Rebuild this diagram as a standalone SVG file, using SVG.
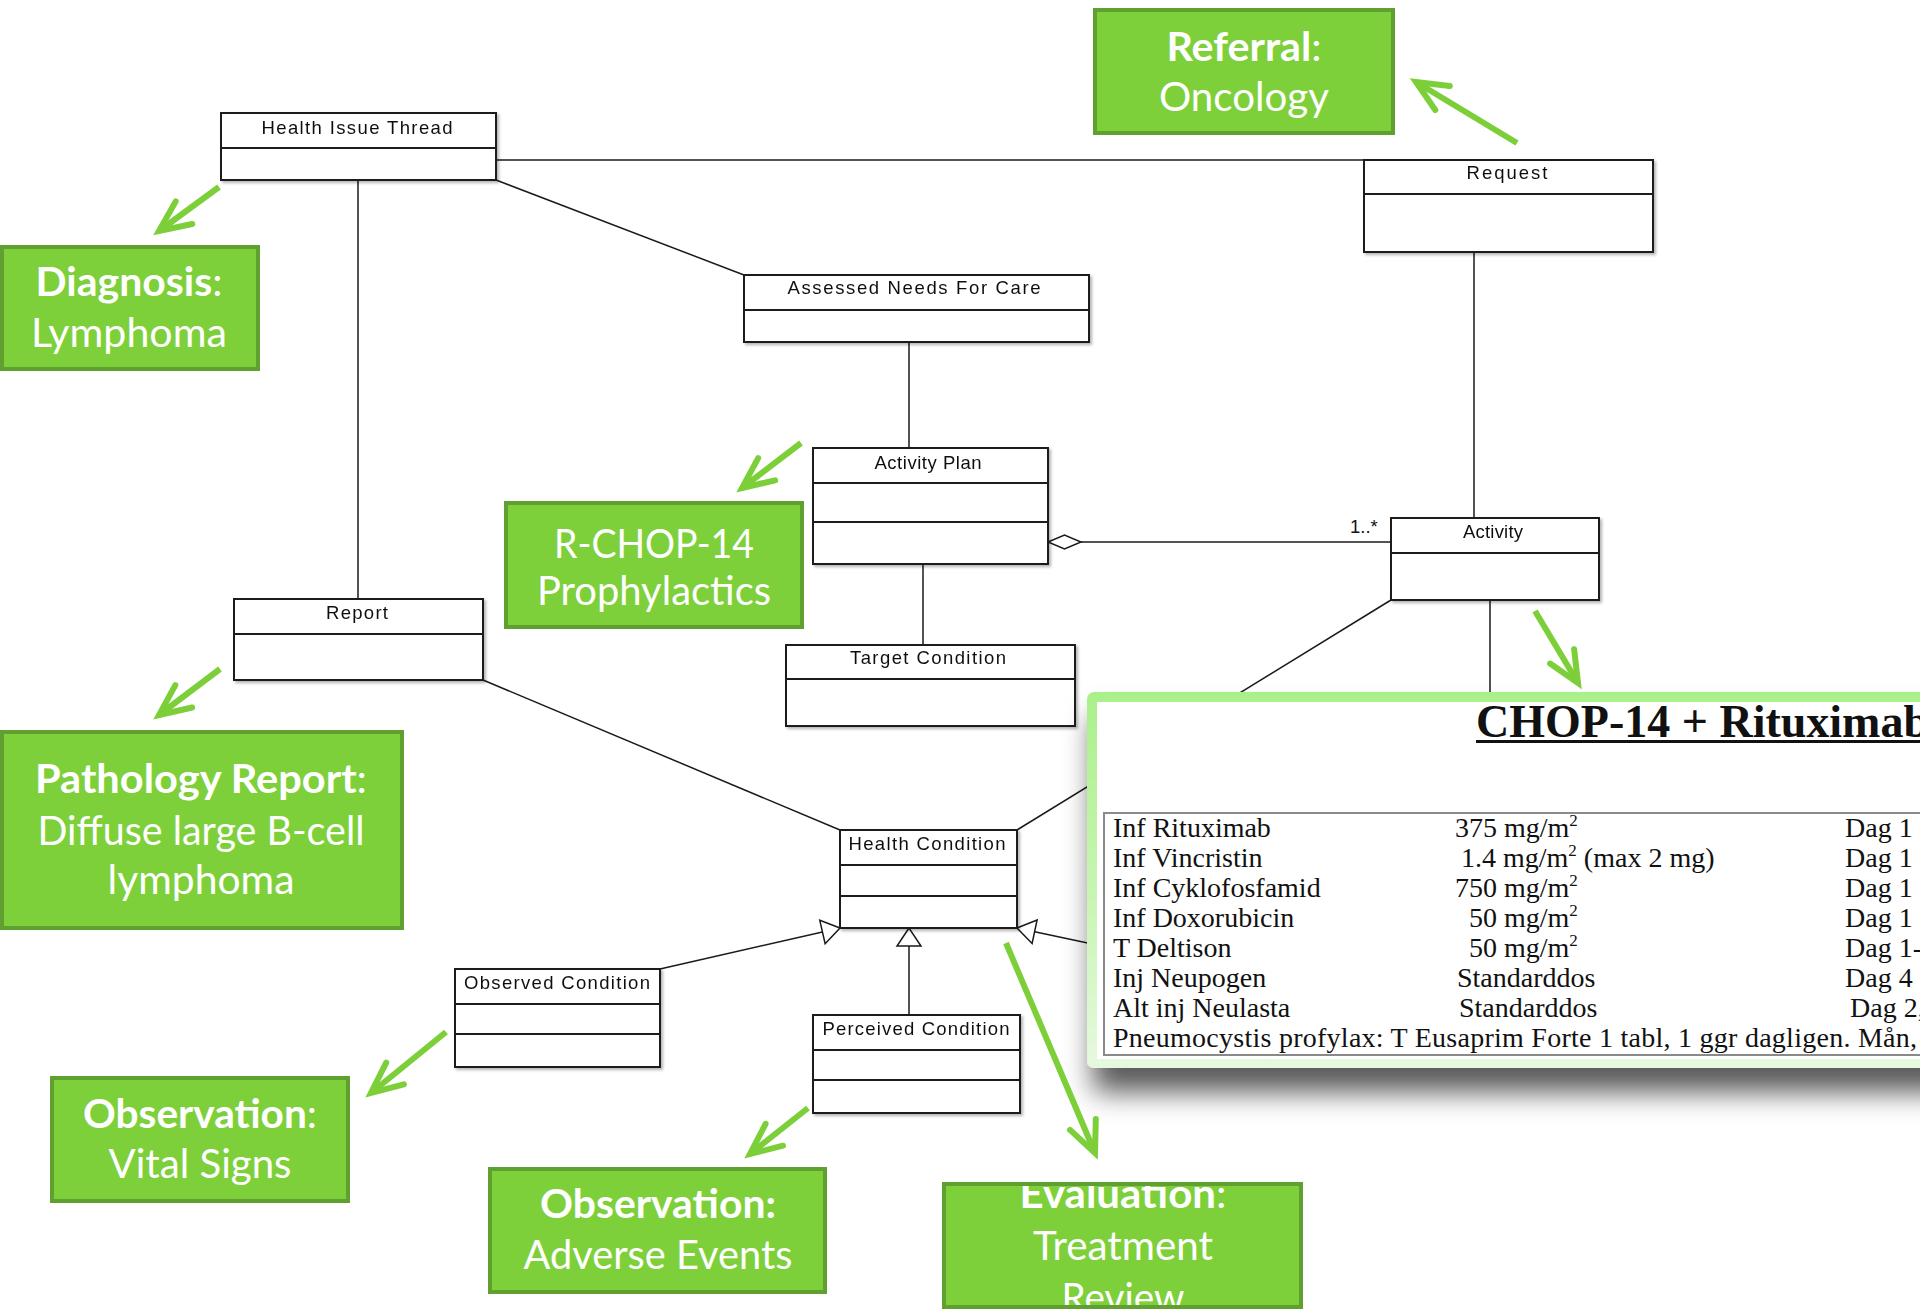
<svg xmlns="http://www.w3.org/2000/svg" width="1920" height="1312" viewBox="0 0 1920 1312">
  <defs>
    <style>
      .cls rect { fill: #ffffff; stroke: #1a1a1a; stroke-width: 2; }
      .cls line { stroke: #1a1a1a; stroke-width: 2; }
      .cls text, .mult { font-family: "Liberation Sans", Arial, sans-serif; font-size: 18.5px; fill: #111; }
      .conn line, .conn path { stroke: #1a1a1a; stroke-width: 1.5; fill: none; }
      .note rect.box { fill: #7ed03b; stroke: #60a030; stroke-width: 4; }
      .note text { font-family: Lato, "Open Sans", sans-serif; font-size: 40px; fill: #ffffff; }
      .note .b { font-weight: 700; }
      .pointer path { stroke: #7ccf39; stroke-width: 6; fill: none; marker-end: url(#vee); }
      .rx text { font-family: "Liberation Serif", "Times New Roman", serif; font-size: 28px; fill: #111; }
      .rx .sup { font-size: 17px; }
    </style>
    <marker id="vee" markerUnits="userSpaceOnUse" orient="auto" viewBox="-40 -20 50 40" markerWidth="50" markerHeight="40" refX="0" refY="0" overflow="visible">
      <path d="M-31,-14 L0,0 L-31,14" fill="none" stroke="#7ccf39" stroke-width="6" stroke-linecap="round" stroke-linejoin="miter"/>
    </marker>
    <marker id="gen" markerUnits="userSpaceOnUse" orient="auto" viewBox="-20 -14 22 28" markerWidth="22" markerHeight="28" refX="0" refY="0" overflow="visible">
      <path d="M0,0 L-18,-12 L-18,12 Z" fill="#ffffff" stroke="#1a1a1a" stroke-width="1.5"/>
    </marker>
    <filter id="boxShadow" x="-5%" y="-5%" width="115%" height="125%">
      <feGaussianBlur in="SourceAlpha" stdDeviation="1.5"/>
      <feOffset dx="2" dy="2" result="o"/>
      <feFlood flood-color="#000" flood-opacity="0.3"/>
      <feComposite in2="o" operator="in"/>
      <feMerge><feMergeNode/><feMergeNode in="SourceGraphic"/></feMerge>
    </filter>
    <filter id="panelShadow" x="-10%" y="-20%" width="130%" height="160%">
      <feGaussianBlur in="SourceAlpha" stdDeviation="14"/>
      <feOffset dx="6" dy="24" result="o"/>
      <feFlood flood-color="#000" flood-opacity="0.65"/>
      <feComposite in2="o" operator="in"/>
      <feMerge><feMergeNode/><feMergeNode in="SourceGraphic"/></feMerge>
    </filter>
    <linearGradient id="frameGrad" x1="0" y1="0" x2="0" y2="1">
      <stop offset="0" stop-color="#aaf08a"/>
      <stop offset="0.55" stop-color="#c9f5b4"/>
      <stop offset="1" stop-color="#e6f9df"/>
    </linearGradient>
    <clipPath id="evalClip">
      <rect x="946" y="1186" width="353" height="119"/>
    </clipPath>
  </defs>

  <rect x="0" y="0" width="1920" height="1312" fill="#ffffff"/>

  <!-- associations between classes -->
  <g id="connectors" class="conn">
    <line x1="496" y1="160" x2="1364" y2="160"/>
    <line x1="358" y1="180" x2="358" y2="599"/>
    <line x1="496" y1="180" x2="744" y2="275"/>
    <line x1="909" y1="342" x2="909" y2="448"/>
    <line x1="923" y1="564" x2="923" y2="645"/>
    <line x1="1474" y1="252" x2="1474" y2="518"/>
    <line x1="1081" y1="542" x2="1391" y2="542"/>
    <path d="M1048,542 L1064.5,535 L1081,542 L1064.5,549 Z" fill="#ffffff"/>
    <line x1="483" y1="680" x2="840" y2="830"/>
    <line x1="1391" y1="600" x2="1017" y2="830"/>
    <line x1="1490" y1="600" x2="1490" y2="800"/>
    <line x1="660" y1="969" x2="840" y2="928" marker-end="url(#gen)"/>
    <line x1="909" y1="1015" x2="909" y2="928" marker-end="url(#gen)"/>
    <line x1="1130" y1="952" x2="1017" y2="928" marker-end="url(#gen)"/>
    <text class="mult" x="1350" y="533">1..*</text>
  </g>

  <!-- UML classes -->
  <g id="health-issue-thread" class="cls" filter="url(#boxShadow)">
    <rect x="221" y="113" width="275" height="67"/>
    <line x1="221" y1="148" x2="496" y2="148"/>
    <text x="357" y="134" text-anchor="middle" textLength="191" lengthAdjust="spacing">Health Issue Thread</text>
  </g>
  <g id="request" class="cls" filter="url(#boxShadow)">
    <rect x="1364" y="160" width="289" height="92"/>
    <line x1="1364" y1="194" x2="1653" y2="194"/>
    <text x="1507" y="179" text-anchor="middle" textLength="81" lengthAdjust="spacing">Request</text>
  </g>
  <g id="assessed-needs" class="cls" filter="url(#boxShadow)">
    <rect x="744" y="275" width="345" height="67"/>
    <line x1="744" y1="310" x2="1089" y2="310"/>
    <text x="914" y="294" text-anchor="middle" textLength="253" lengthAdjust="spacing">Assessed Needs For Care</text>
  </g>
  <g id="activity-plan" class="cls" filter="url(#boxShadow)">
    <rect x="813" y="448" width="235" height="116"/>
    <line x1="813" y1="483" x2="1048" y2="483"/>
    <line x1="813" y1="522" x2="1048" y2="522"/>
    <text x="928" y="469" text-anchor="middle" textLength="107" lengthAdjust="spacing">Activity Plan</text>
  </g>
  <g id="activity" class="cls" filter="url(#boxShadow)">
    <rect x="1391" y="518" width="208" height="82"/>
    <line x1="1391" y1="553" x2="1599" y2="553"/>
    <text x="1493" y="538" text-anchor="middle" textLength="60" lengthAdjust="spacing">Activity</text>
  </g>
  <g id="target-condition" class="cls" filter="url(#boxShadow)">
    <rect x="786" y="645" width="289" height="81"/>
    <line x1="786" y1="679" x2="1075" y2="679"/>
    <text x="928" y="664" text-anchor="middle" textLength="156" lengthAdjust="spacing">Target Condition</text>
  </g>
  <g id="report" class="cls" filter="url(#boxShadow)">
    <rect x="234" y="599" width="249" height="81"/>
    <line x1="234" y1="634" x2="483" y2="634"/>
    <text x="357" y="619" text-anchor="middle" textLength="62" lengthAdjust="spacing">Report</text>
  </g>
  <g id="health-condition" class="cls" filter="url(#boxShadow)">
    <rect x="840" y="830" width="177" height="98"/>
    <line x1="840" y1="865" x2="1017" y2="865"/>
    <line x1="840" y1="896" x2="1017" y2="896"/>
    <text x="927" y="850" text-anchor="middle" textLength="157" lengthAdjust="spacing">Health Condition</text>
  </g>
  <g id="observed-condition" class="cls" filter="url(#boxShadow)">
    <rect x="455" y="969" width="205" height="98"/>
    <line x1="455" y1="1004" x2="660" y2="1004"/>
    <line x1="455" y1="1034" x2="660" y2="1034"/>
    <text x="557" y="989" text-anchor="middle" textLength="186" lengthAdjust="spacing">Observed Condition</text>
  </g>
  <g id="perceived-condition" class="cls" filter="url(#boxShadow)">
    <rect x="813" y="1015" width="207" height="98"/>
    <line x1="813" y1="1050" x2="1020" y2="1050"/>
    <line x1="813" y1="1080" x2="1020" y2="1080"/>
    <text x="916" y="1035" text-anchor="middle" textLength="187" lengthAdjust="spacing">Perceived Condition</text>
  </g>

  <!-- regimen sheet laid over the lower right -->
  <g id="regimen-panel">
    <rect x="1087" y="692" width="880" height="376" rx="7" fill="url(#frameGrad)" filter="url(#panelShadow)"/>
    <rect x="1097" y="702" width="870" height="357" fill="#ffffff"/>
    <text x="1476" y="737" font-family="'Liberation Serif', 'Times New Roman', serif" font-size="46" font-weight="700" fill="#111">CHOP-14 + Rituximab</text>
    <rect x="1476" y="740" width="470" height="3" fill="#111"/>
    <rect x="1104" y="813" width="870" height="242" fill="none" stroke="#8a8a8a" stroke-width="2"/>
    <g class="rx">
      <text x="1113" y="837">Inf Rituximab</text>
      <text x="1455" y="837">375 mg/m<tspan class="sup" dy="-11">2</tspan></text>
      <text x="1845" y="837">Dag 1</text>

      <text x="1113" y="867">Inf Vincristin</text>
      <text x="1461" y="867">1.4 mg/m<tspan class="sup" dy="-11">2</tspan><tspan dy="11"> (max 2 mg)</tspan></text>
      <text x="1845" y="867">Dag 1</text>

      <text x="1113" y="897">Inf Cyklofosfamid</text>
      <text x="1455" y="897">750 mg/m<tspan class="sup" dy="-11">2</tspan></text>
      <text x="1845" y="897">Dag 1</text>

      <text x="1113" y="927">Inf Doxorubicin</text>
      <text x="1469" y="927">50 mg/m<tspan class="sup" dy="-11">2</tspan></text>
      <text x="1845" y="927">Dag 1</text>

      <text x="1113" y="957">T Deltison</text>
      <text x="1469" y="957">50 mg/m<tspan class="sup" dy="-11">2</tspan></text>
      <text x="1845" y="957">Dag 1-</text>

      <text x="1113" y="987">Inj Neupogen</text>
      <text x="1457" y="987">Standarddos</text>
      <text x="1845" y="987">Dag 4</text>

      <text x="1113" y="1017">Alt inj Neulasta</text>
      <text x="1459" y="1017">Standarddos</text>
      <text x="1850" y="1017">Dag 2,</text>

      <text x="1113" y="1047" textLength="804" lengthAdjust="spacing">Pneumocystis profylax: T Eusaprim Forte 1 tabl, 1 ggr dagligen. Mån,</text>
    </g>
  </g>

  <!-- green annotation boxes -->
  <g id="note-referral" class="note">
    <rect class="box" x="1095" y="10" width="298" height="123"/>
    <text x="1244" y="61" text-anchor="middle" textLength="155" lengthAdjust="spacingAndGlyphs"><tspan class="b">Referral</tspan>:</text>
    <text x="1244" y="111" text-anchor="middle" textLength="170" lengthAdjust="spacingAndGlyphs">Oncology</text>
  </g>
  <g id="note-diagnosis" class="note">
    <rect class="box" x="2" y="247" width="256" height="122"/>
    <text x="129" y="296" text-anchor="middle" textLength="187" lengthAdjust="spacingAndGlyphs"><tspan class="b">Diagnosis</tspan>:</text>
    <text x="129" y="347" text-anchor="middle" textLength="196" lengthAdjust="spacingAndGlyphs">Lymphoma</text>
  </g>
  <g id="note-rchop" class="note">
    <rect class="box" x="506" y="503" width="296" height="124"/>
    <text x="654" y="558" text-anchor="middle" textLength="200" lengthAdjust="spacingAndGlyphs">R-CHOP-14</text>
    <text x="654" y="605" text-anchor="middle" textLength="234" lengthAdjust="spacingAndGlyphs">Prophylactics</text>
  </g>
  <g id="note-pathology" class="note">
    <rect class="box" x="2" y="732" width="400" height="196"/>
    <text x="201" y="793" text-anchor="middle" textLength="332" lengthAdjust="spacingAndGlyphs"><tspan class="b">Pathology Report</tspan>:</text>
    <text x="201" y="845" text-anchor="middle" textLength="327" lengthAdjust="spacingAndGlyphs">Diffuse large B-cell</text>
    <text x="201" y="894" text-anchor="middle" textLength="187" lengthAdjust="spacingAndGlyphs">lymphoma</text>
  </g>
  <g id="note-vital-signs" class="note">
    <rect class="box" x="52" y="1078" width="296" height="123"/>
    <text x="200" y="1128" text-anchor="middle" textLength="234" lengthAdjust="spacingAndGlyphs"><tspan class="b">Observation</tspan>:</text>
    <text x="200" y="1178" text-anchor="middle" textLength="183" lengthAdjust="spacingAndGlyphs">Vital Signs</text>
  </g>
  <g id="note-adverse-events" class="note">
    <rect class="box" x="490" y="1169" width="335" height="123"/>
    <text class="b" x="658" y="1218" text-anchor="middle" textLength="236" lengthAdjust="spacingAndGlyphs">Observation:</text>
    <text x="658" y="1269" text-anchor="middle" textLength="269" lengthAdjust="spacingAndGlyphs">Adverse Events</text>
  </g>
  <g id="note-evaluation" class="note">
    <rect x="944" y="1184" width="357" height="123" fill="#7ed03b"/>
    <g clip-path="url(#evalClip)">
      <text x="1123" y="1208" text-anchor="middle" textLength="207" lengthAdjust="spacingAndGlyphs"><tspan class="b">Evaluation</tspan>:</text>
      <text x="1123" y="1260" text-anchor="middle" textLength="180" lengthAdjust="spacingAndGlyphs">Treatment</text>
      <text x="1123" y="1312" text-anchor="middle" textLength="123" lengthAdjust="spacingAndGlyphs">Review</text>
    </g>
    <rect x="944" y="1184" width="357" height="123" fill="none" stroke="#60a030" stroke-width="4"/>
  </g>

  <!-- green pointers from classes to annotations -->
  <g id="pointers" class="pointer">
    <path d="M219,187 L159,231"/>
    <path d="M1517,143 L1416,82"/>
    <path d="M801,443 L742,488"/>
    <path d="M220,669 L159,715"/>
    <path d="M1535,611 L1578,683"/>
    <path d="M446,1032 L371,1093"/>
    <path d="M808,1108 L750,1154"/>
    <path d="M1006,943 L1095,1153"/>
  </g>
</svg>
